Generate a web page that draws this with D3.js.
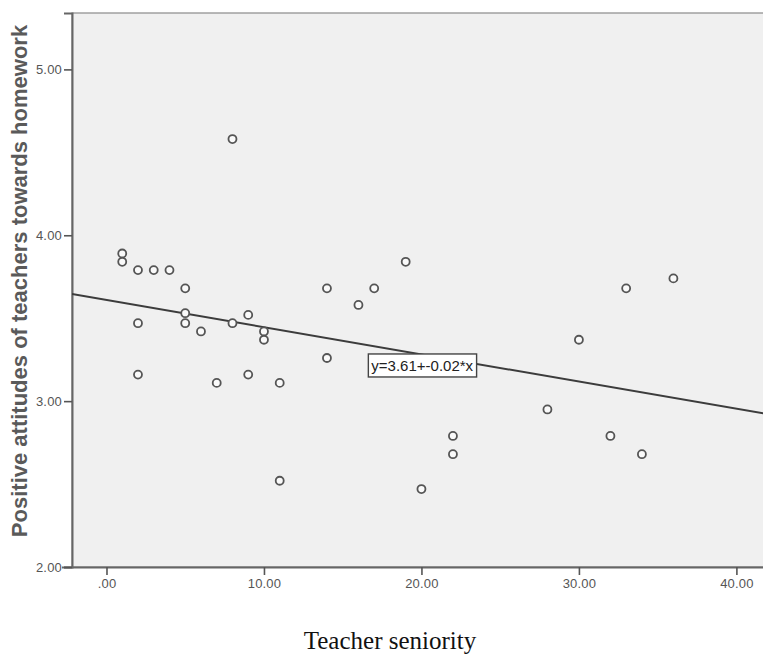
<!DOCTYPE html>
<html>
<head>
<meta charset="utf-8">
<script src="https://cdn.jsdelivr.net/npm/d3@7"></script>
<style>
html,body{margin:0;padding:0;background:#fff;}
svg{display:block;}
</style>
</head>
<body>
<svg id="chart" width="763" height="657"></svg>
<script>
// Data
const seniority = [1, 1, 2, 3, 4, 5, 5, 5, 2, 6, 8, 9, 10, 10, 8, 2, 7, 9, 11, 11, 14, 14, 16, 17, 19, 20, 22, 22, 28, 32, 34, 30, 33, 36];
const attitude  = [3.89, 3.84, 3.79, 3.79, 3.79, 3.68, 3.53, 3.47, 3.47, 3.42, 3.47, 3.52, 3.42, 3.37, 4.58, 3.16, 3.11, 3.16, 3.11, 2.52, 3.26, 3.68, 3.58, 3.68, 3.84, 2.47, 2.79, 2.68, 2.95, 2.79, 2.68, 3.37, 3.68, 3.74];
const xTicks = [0, 10, 20, 30, 40];
const yTicks = [2, 3, 4, 5];
const fitIntercept = 3.61;
const fitSlope = -0.0164;
const fitLabel = "y=3.61+-0.02*x";
const xTitle = "Teacher seniority";
const yTitle = "Positive attitudes of teachers towards homework";

const svg = d3.select("#chart");
const L = 72, T = 13, R = 766, B = 567;

const x = d3.scaleLinear().domain([-2.19, 41.88]).range([L, R]);
const y = d3.scaleLinear().domain([2, 5.34]).range([B, T]);

// plot background
svg.append("rect").attr("x", L).attr("y", T).attr("width", R - L).attr("height", B - T)
  .attr("fill", "#f0f0f0").attr("stroke", "#8a8a8a").attr("stroke-width", 1.2);

svg.append("clipPath").attr("id", "clip").append("rect")
  .attr("x", L).attr("y", T).attr("width", R - L).attr("height", B - T);

// axes
const fmt = v => v === 0 ? ".00" : d3.format(".2f")(v);
const xAxis = svg.append("g").attr("transform", `translate(0,${B})`)
  .call(d3.axisBottom(x).tickValues(xTicks).tickFormat(fmt).tickSize(8).tickPadding(4));
const yAxis = svg.append("g").attr("transform", `translate(${L},0)`)
  .call(d3.axisLeft(y).tickValues(yTicks).tickFormat(d3.format(".2f")).tickSize(8).tickPadding(2));
[xAxis, yAxis].forEach(g => {
  g.select(".domain").attr("stroke", "#666").attr("stroke-width", 2);
  g.selectAll(".tick line").attr("stroke", "#555").attr("stroke-width", 1.6);
  g.selectAll(".tick text").attr("fill", "#555").attr("font-family", "Arial, 'Liberation Sans', sans-serif")
    .attr("font-size", 13).attr("letter-spacing", 0.2);
});
xAxis.select(".domain").attr("d", `M${L - 10},0.5H${R}`);

// regression line
const plot = svg.append("g").attr("clip-path", "url(#clip)");
const xd = x.domain();
plot.append("line")
  .attr("x1", x(xd[0])).attr("y1", y(fitIntercept + fitSlope * xd[0]))
  .attr("x2", x(xd[1])).attr("y2", y(fitIntercept + fitSlope * xd[1]))
  .attr("stroke", "#3c3c3c").attr("stroke-width", 2);

// points
plot.selectAll("circle").data(seniority.map((s, i) => [s, attitude[i]])).join("circle")
  .attr("cx", d => x(d[0])).attr("cy", d => y(d[1])).attr("r", 4)
  .attr("fill", "#fafafa").attr("stroke", "#555").attr("stroke-width", 1.8);

// fit label
const lx = x(20.05), ly = y(3.215);
const lab = svg.append("g");
const txt = lab.append("text").attr("x", lx).attr("y", ly).attr("text-anchor", "middle")
  .attr("dominant-baseline", "central")
  .attr("font-family", "Arial, 'Liberation Sans', sans-serif").attr("font-size", 15)
  .attr("fill", "#222").text(fitLabel);
const bb = txt.node().getBBox();
lab.insert("rect", "text").attr("x", bb.x - 3).attr("y", bb.y - 3).attr("width", bb.width + 6).attr("height", bb.height + 6)
  .attr("fill", "#fff").attr("stroke", "#444").attr("stroke-width", 1.4);

// titles
svg.append("text").attr("transform", `translate(27,${281}) rotate(-90)`).attr("text-anchor", "middle")
  .attr("font-family", "Arial, 'Liberation Sans', sans-serif").attr("font-weight", "bold")
  .attr("font-size", 22).attr("fill", "#5a5a5a").text(yTitle);
svg.append("text").attr("x", 390).attr("y", 649).attr("text-anchor", "middle")
  .attr("font-family", "'Times New Roman', 'Liberation Serif', serif")
  .attr("font-size", 25).attr("fill", "#111").text(xTitle);
</script>
</body>
</html>
